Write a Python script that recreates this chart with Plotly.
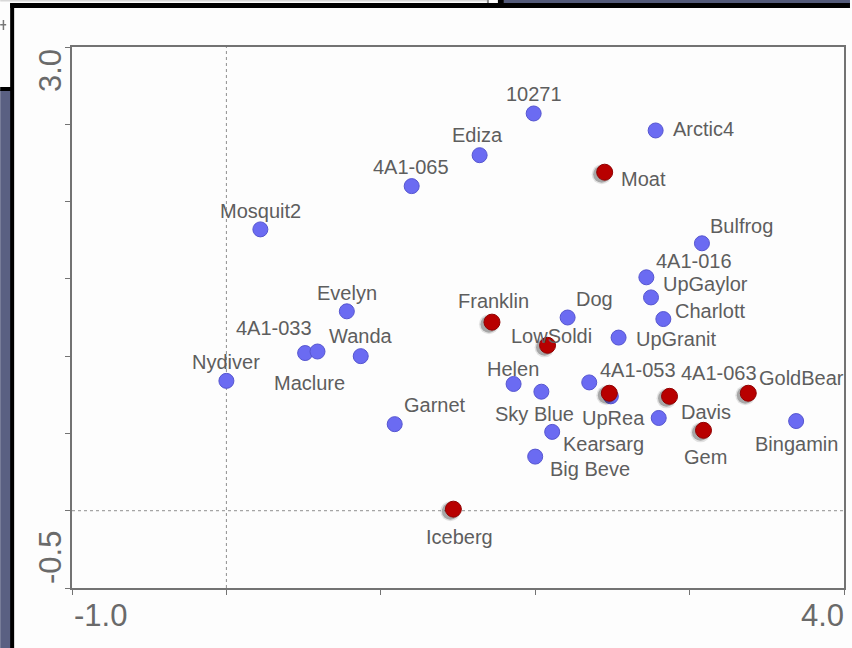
import plotly.graph_objects as go

# Ordination scores of the lake samples (axis 1, axis 2)
blue_names = ["10271", "Arctic4", "Ediza", "4A1-065", "Mosquit2", "Bulfrog", "4A1-016",
              "UpGaylor", "Charlott", "Dog", "UpGranit", "Evelyn", "Wanda", "4A1-033",
              "Maclure", "Nydiver", "Garnet", "Helen", "Sky Blue", "Kearsarg", "Big Beve",
              "4A1-053", "", "Davis", "Bingamin"]
blue_x = [1.99, 2.78, 1.64, 1.20, 0.22, 3.08, 2.72, 2.75, 2.83, 2.21, 2.54, 0.78, 0.87,
          0.51, 0.59, 0.00, 1.09, 1.86, 2.04, 2.11, 2.00, 2.35, 2.49, 2.80, 3.69]
blue_y = [2.57, 2.46, 2.30, 2.10, 1.82, 1.73, 1.51, 1.38, 1.24, 1.25, 1.12, 1.29, 1.00,
          1.02, 1.03, 0.84, 0.56, 0.82, 0.77, 0.51, 0.35, 0.83, 0.74, 0.60, 0.58]

red_names = ["Moat", "Franklin", "LowSoldi", "Iceberg", "UpRea", "4A1-063", "GoldBear", "Gem"]
red_x = [2.45, 1.72, 2.08, 1.47, 2.48, 2.87, 3.38, 3.09]
red_y = [2.19, 1.22, 1.07, 0.01, 0.76, 0.74, 0.76, 0.52]

x_range = [-1.0, 4.0]
y_range = [-0.5, 3.0]
x_tick_labels = ["-1.0", "4.0"]
y_tick_labels = ["3.0", "-0.5"]

# Label offsets from each marker, in pixels (dx right, dy up)
label_shift = {
    "10271": (0, 19), "Arctic4": (48, 1), "Ediza": (-2, 20), "4A1-065": (-1, 19),
    "Moat": (39, -7), "Mosquit2": (0, 18), "Bulfrog": (40, 17), "4A1-016": (48, 16),
    "UpGaylor": (54, 13), "Charlott": (47, 8), "Dog": (27, 19), "Franklin": (2, 21),
    "UpGranit": (57, -1), "LowSoldi": (4, 9), "Evelyn": (0, 18), "Wanda": (0, 20),
    "4A1-033": (-31, 25), "Maclure": (-8, -31), "Nydiver": (0, 19), "Garnet": (40, 19),
    "Iceberg": (6, -28), "Helen": (-1, 15), "Sky Blue": (-7, -22), "Kearsarg": (51, -12),
    "Big Beve": (55, -12), "4A1-053": (49, 12), "UpRea": (4, -25), "Davis": (47, 6),
    "4A1-063": (49, 23), "GoldBear": (53, 15), "Gem": (2, -27), "Bingamin": (0, -23),
}

PX_PER_UNIT = 154.6
shadow_dx = -3.0 / PX_PER_UNIT
shadow_dy = -2.0 / PX_PER_UNIT

fig = go.Figure()

fig.add_trace(go.Scatter(
    x=blue_x, y=blue_y, mode="markers", hoverinfo="skip",
    marker=dict(size=15, color="#6b6bf2", line=dict(color="#5656d0", width=1)),
))
# soft shadow beneath the red samples
for size, alpha in [(20, 0.12), (17, 0.3)]:
    fig.add_trace(go.Scatter(
        x=[v + shadow_dx for v in red_x], y=[v + shadow_dy for v in red_y],
        mode="markers", hoverinfo="skip",
        marker=dict(size=size, color=f"rgba(30,30,30,{alpha})", line=dict(width=0)),
    ))
fig.add_trace(go.Scatter(
    x=red_x, y=red_y, mode="markers", hoverinfo="skip",
    marker=dict(size=16, color="#b80000", line=dict(color="#900000", width=1)),
))

label_font = dict(family="Liberation Sans, Arial, sans-serif", size=20, color="#5e5e5e")
for names, xs, ys in [(blue_names, blue_x, blue_y), (red_names, red_x, red_y)]:
    for n, xv, yv in zip(names, xs, ys):
        if not n:
            continue
        dx, dy = label_shift[n]
        fig.add_annotation(x=xv, y=yv, text=n, showarrow=False, xshift=dx, yshift=dy,
                           xanchor="center", yanchor="middle", font=label_font)

# zero lines
fig.add_shape(type="line", x0=0, x1=0, y0=y_range[0], y1=y_range[1], xref="x", yref="y",
              line=dict(color="#8f8f8f", width=1, dash="3px,3px"), layer="below")
fig.add_shape(type="line", x0=x_range[0], x1=x_range[1], y0=0, y1=0, xref="x", yref="y",
              line=dict(color="#8f8f8f", width=1, dash="3px,3px"), layer="below")

# end-of-axis labels
tick_font = dict(family="Liberation Sans, Arial, sans-serif", size=31, color="#6a6a6a")
fig.add_annotation(x=x_range[0], y=0, xref="x", yref="paper", text=x_tick_labels[0],
                   showarrow=False, xanchor="left", yanchor="top", xshift=0, yshift=-8,
                   font=tick_font)
fig.add_annotation(x=x_range[1], y=0, xref="x", yref="paper", text=x_tick_labels[1],
                   showarrow=False, xanchor="right", yanchor="top", xshift=2, yshift=-8,
                   font=tick_font)
fig.add_annotation(x=0, y=y_range[1], xref="paper", yref="y", text=y_tick_labels[0],
                   showarrow=False, textangle=-90, xanchor="right", yanchor="top",
                   xshift=-2, yshift=0, font=tick_font)
fig.add_annotation(x=0, y=y_range[0], xref="paper", yref="y", text=y_tick_labels[1],
                   showarrow=False, textangle=-90, xanchor="right", yanchor="bottom",
                   xshift=-2, yshift=2, font=tick_font)

# window frame around the chart panel (pixel coords converted to paper space)
W, H = 852, 648
L, R, T, B = 72, 6, 47, 60
pw, ph = W - L - R, H - T - B


def px(xp):
    return (xp - L) / pw


def py(yp):
    return (H - B - yp) / ph


def rect(x0, y0, x1, y1, color):
    fig.add_shape(type="rect", xref="paper", yref="paper", x0=px(x0), x1=px(x1),
                  y0=py(y1), y1=py(y0), fillcolor=color, line=dict(width=0), layer="above")


rect(0, 90, 11, H, "#5a6082")
rect(505, 0, W, 4, "#545b7a")
rect(0, 0, 489, 1.5, "#d8d8d8")
rect(488, 0, 490, 4, "#8a8a8a")
rect(499, 0, 505, 4, "#000000")
rect(0, 87, 12, 91, "#000000")
rect(10, 3, W, 8, "#000000")
rect(10, 3, 14, H, "#000000")
rect(0, 24, 6, 25.5, "#777777")
rect(2.5, 20, 4, 30, "#777777")

fig.update_xaxes(range=x_range, dtick=1.0, tick0=-1.0, showgrid=False, zeroline=False,
                 showline=True, linecolor="#737373", linewidth=2, mirror=True,
                 ticks="outside", ticklen=5, tickcolor="#737373", tickwidth=1,
                 showticklabels=False)
fig.update_yaxes(range=y_range, dtick=0.5, tick0=-0.5, showgrid=False, zeroline=False,
                 showline=True, linecolor="#737373", linewidth=2, mirror=True,
                 ticks="outside", ticklen=5, tickcolor="#737373", tickwidth=1,
                 showticklabels=False)

fig.update_layout(
    width=W, height=H, showlegend=False,
    margin=dict(l=L, r=R, t=T, b=B),
    paper_bgcolor="#fdfdfd", plot_bgcolor="#fdfdfd",
)

fig.write_html("out.html")
